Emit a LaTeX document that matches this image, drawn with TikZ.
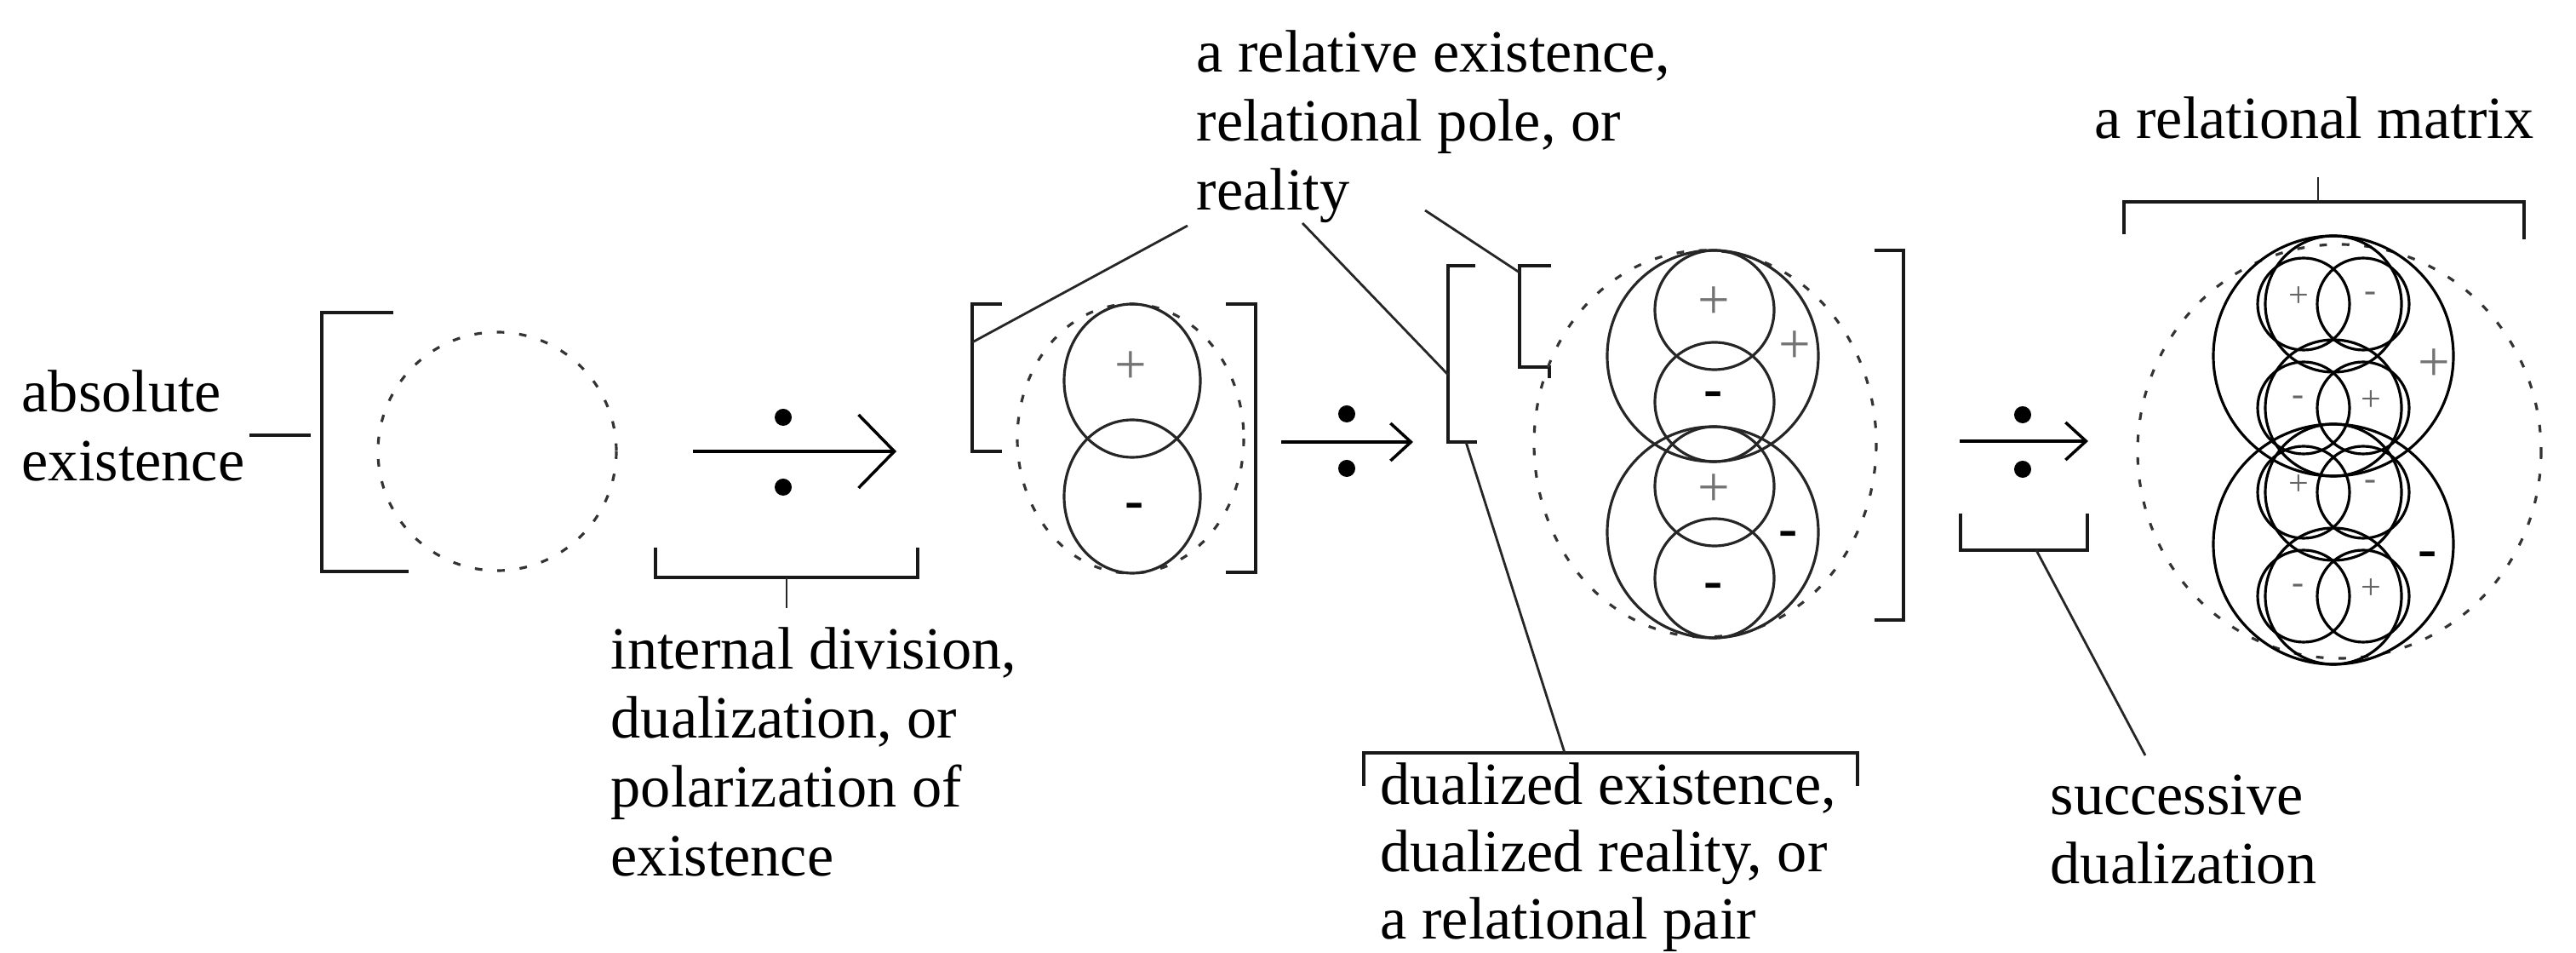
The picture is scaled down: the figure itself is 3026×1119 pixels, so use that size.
\documentclass[tikz,border=0pt]{standalone}
\usepackage{fontspec}
\setmainfont{Liberation Serif}
\usetikzlibrary{arrows.meta}

\begin{document}
\begin{tikzpicture}[x=0.01cm, y=-0.01cm,
  every node/.style={font=\fontsize{20}{23}\selectfont, inner sep=0pt},
  txt/.style={anchor=north west, align=left},
  brack/.style={line width=1.1pt, black!90},
  leader/.style={line width=0.8pt, black!85},
  ring/.style={line width=0.9pt, black!85},
  dashring/.style={line width=0.9pt, black!80, dash pattern=on 2.5pt off 5pt},
  divdot/.style={circle, fill=black, minimum size=0.2cm},
  plus/.style={font=\fontsize{19}{19}\selectfont, text=black!55},
  minus/.style={font=\fontsize{19}{19}\selectfont\bfseries},
  tinysign/.style={font=\fontsize{12}{12}\selectfont, text=black!60},
  bigarr/.style={line width=1pt, -{Straight Barb[length=0.42cm, width=0.86cm]}},
  smallarr/.style={line width=1pt, -{Straight Barb[length=0.24cm, width=0.44cm]}}
]
  \useasboundingbox (0,0) rectangle (3026,1119);

  % Labels
  \node[txt] (abs)  at (25,434)   {absolute\\existence};
  \node[txt] (div)  at (717,736)  {internal division,\\dualization, or\\polarization of\\existence};
  \node[txt] (rel)  at (1405,35)  {a relative existence,\\relational pole, or\\reality};
  \node[txt, font=\fontsize{20}{22.5}\selectfont]
             (dual) at (1621,895) {dualized existence,\\dualized reality, or\\a relational pair};
  \node[txt] (succ) at (2408,909) {successive\\dualization};
  \node[txt] (mat)  at (2460,113) {a relational matrix};

  % Stage 1: absolute existence
  \draw[dashring] (584,530) circle [radius=140];
  \draw[brack] (462,367) -- (378,367) -- (378,671) -- (480,671);
  \coordinate (b1) at (365,511);
  \draw[brack, shorten <=0.05cm] (abs.east |- b1) -- (b1);

  % First division arrow
  \coordinate (a1s) at (814,530);
  \coordinate (a1e) at (1053,530);
  \draw[bigarr] (a1s) -- (a1e);
  \node[divdot] (a1u) at (920,490) {};
  \node[divdot] (a1d) at (920,572) {};
  \draw[brack] (770,643) -- (770,678) -- (1078,678) -- (1078,643);
  \coordinate (u1) at (924,678);
  \draw[leader, shorten >=0.22cm] (u1) -- (u1 |- div.north);

  % Stage 2: relational pair
  \draw[dashring] (1328,515) ellipse [x radius=133, y radius=158];
  \draw[ring] (1330,447) ellipse [x radius=80, y radius=90];
  \draw[ring] (1330,583) ellipse [x radius=80, y radius=90];
  \node[plus]  (p2) at (1328,432) {+};
  \node[minus] (m2) at (1333,600) {-};
  \draw[brack] (1177,357) -- (1142,357) -- (1142,530) -- (1177,530);
  \draw[brack] (1440,357) -- (1475,357) -- (1475,672) -- (1440,672);
  \coordinate (r1) at (1395,265);
  \coordinate (b2) at (1142,402);
  \draw[leader] (r1) -- (b2);

  % Second division arrow
  \coordinate (a2s) at (1505,519);
  \coordinate (a2e) at (1660,519);
  \draw[smallarr] (a2s) -- (a2e);
  \node[divdot] (a2u) at (1582,486) {};
  \node[divdot] (a2d) at (1582,550) {};

  % Stage 3: dualized pair
  \draw[brack] (1733,312) -- (1701,312) -- (1701,519) -- (1735,519);
  \draw[brack] (1822,312) -- (1785,312) -- (1785,431) -- (1820,431) -- (1820,444);
  \coordinate (r2) at (1530,262);
  \coordinate (bA) at (1701,440);
  \coordinate (r3) at (1674,247);
  \coordinate (bB) at (1785,320);
  \draw[leader] (r2) -- (bA);
  \draw[leader] (r3) -- (bB);
  \draw[dashring] (2003,521) ellipse [x radius=201, y radius=227];
  \foreach \y in {418,625}
    \draw[ring] (2012,\y) circle [radius=124];
  \foreach \y in {364,472,571,679}
    \draw[ring] (2014,\y) circle [radius=70];
  \foreach \y/\s [count=\i] in {356/+,576/+}
    \node[plus] (p3\i) at (2013,\y) {\s};
  \foreach \y/\s [count=\i] in {469/-,694/-}
    \node[minus] (m3\i) at (2013,\y) {\s};
  \node[plus]  (P3) at (2108,408) {+};
  \node[minus] (M3) at (2101,633) {-};
  \draw[brack] (2202,294) -- (2236,294) -- (2236,728) -- (2202,728);

  % Label bracket of the dualized pair
  \draw[brack] (1602,923) -- (1602,884) -- (2182,884) -- (2182,923);
  \coordinate (bA2) at (1722,519);
  \coordinate (d1) at (1838,884);
  \draw[leader] (bA2) -- (d1);

  % Third division arrow
  \coordinate (a3s) at (2302,518);
  \coordinate (a3e) at (2453,518);
  \draw[smallarr] (a3s) -- (a3e);
  \node[divdot] (a3u) at (2376,487) {};
  \node[divdot] (a3d) at (2376,551) {};
  \draw[brack] (2303,603) -- (2303,646) -- (2452,646) -- (2452,603);
  \coordinate (u3) at (2392,646);
  \coordinate (s1) at (2520,887);
  \draw[leader] (u3) -- (s1);

  % Stage 4: relational matrix
  \draw[brack] (2495,275) -- (2495,237) -- (2965,237) -- (2965,281);
  \coordinate (m1) at (2723,237);
  \draw[leader, shorten >=0.44cm] (m1) -- (m1 |- mat.south);
  \draw[dashring] (2748,530) ellipse [x radius=237, y radius=243];
  \foreach \y in {418,639}
    \draw[ring, black] (2741,\y) circle [radius=141];
  \foreach \y/\l/\r [count=\i] in {357/+/-, 479/-/+, 578/+/-, 700/-/+} {
    \draw[ring, black] (2741,\y) circle [radius=80];
    \draw[ring, black] (2706,\y) circle [radius=54];
    \draw[ring, black] (2776,\y) circle [radius=54];
    \node[tinysign] (l4\i) at (2700,\y-8) {\l};
    \node[tinysign] (r4\i) at (2785,\y-8) {\r};
  }
  \node[plus]  (P4) at (2859,429) {+};
  \node[minus] (M4) at (2852,657) {-};
\end{tikzpicture}
\end{document}
